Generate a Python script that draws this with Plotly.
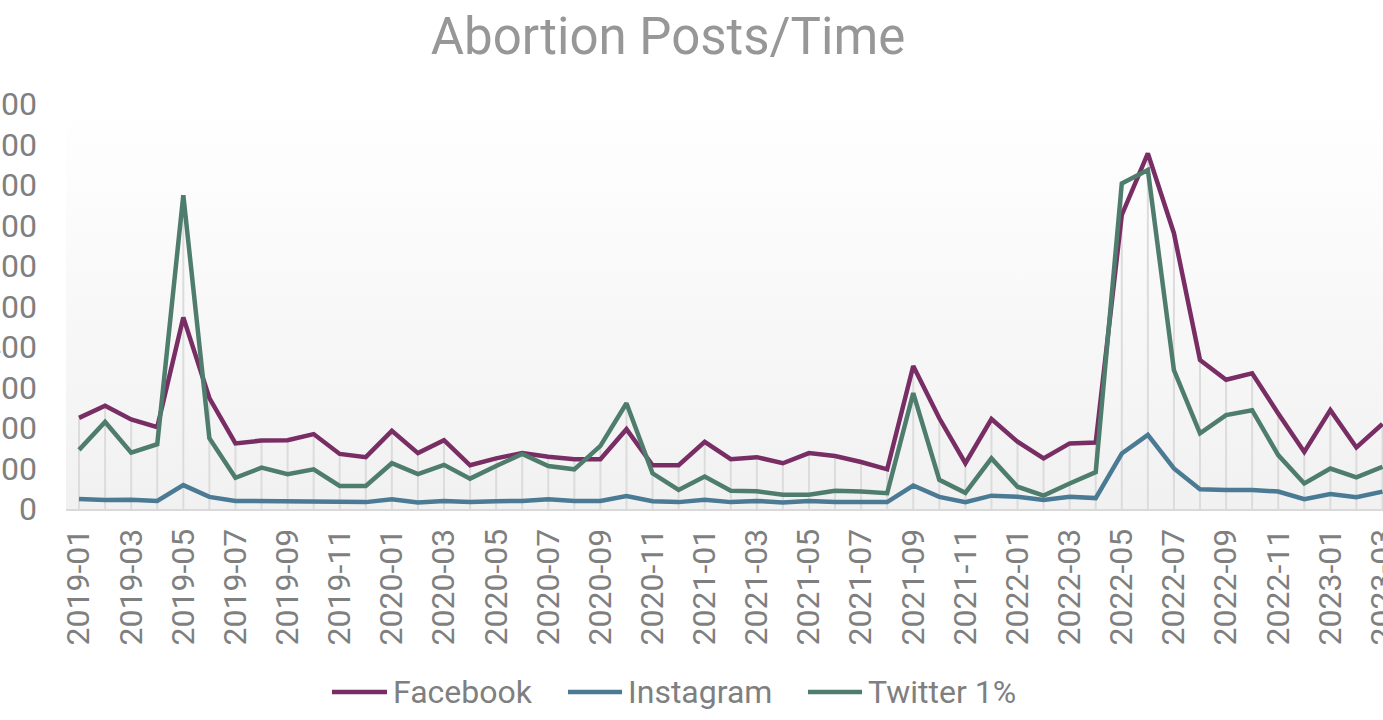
import plotly.graph_objects as go

months = [
    "2019-01", "2019-02", "2019-03", "2019-04", "2019-05", "2019-06", "2019-07", "2019-08", "2019-09", "2019-10", "2019-11", "2019-12",
    "2020-01", "2020-02", "2020-03", "2020-04", "2020-05", "2020-06", "2020-07", "2020-08", "2020-09", "2020-10", "2020-11", "2020-12",
    "2021-01", "2021-02", "2021-03", "2021-04", "2021-05", "2021-06", "2021-07", "2021-08", "2021-09", "2021-10", "2021-11", "2021-12",
    "2022-01", "2022-02", "2022-03", "2022-04", "2022-05", "2022-06", "2022-07", "2022-08", "2022-09", "2022-10", "2022-11", "2022-12",
    "2023-01", "2023-02", "2023-03",
]

facebook = [225, 255, 221, 202, 473, 274, 162, 169, 170, 185, 136, 128,
            193, 138, 170, 108, 125, 138, 129, 123, 123, 197, 108, 108,
            166, 123, 128, 113, 138, 131, 116, 98, 353, 224, 113, 222,
            166, 125, 162, 164, 726, 878, 681, 368, 319, 335, 236, 141,
            244, 152, 210]

instagram = [25, 22, 23, 20, 59, 30, 20, 19, 18, 19, 17, 17,
             24, 16, 20, 17, 19, 20, 24, 20, 20, 32, 19, 17,
             23, 17, 20, 16, 20, 17, 17, 17, 58, 30, 17, 33,
             30, 22, 30, 27, 137, 183, 100, 49, 47, 47, 43, 24,
             37, 29, 43]

twitter = [146, 215, 139, 160, 775, 175, 77, 102, 86, 98, 57, 57,
           113, 86, 109, 75, 106, 136, 106, 98, 156, 261, 88, 47,
           80, 45, 44, 35, 35, 45, 43, 39, 286, 72, 40, 125,
           55, 33, 63, 91, 804, 837, 343, 187, 232, 244, 133, 63,
           100, 78, 104]

y_ticks = [0, 100, 200, 300, 400, 500, 600, 700, 800, 900, 1000]

series = [("Facebook", facebook, "#782E64"), ("Instagram", instagram, "#4A7A94"), ("Twitter 1%", twitter, "#4F7D6D")]

GRAY = "#7F7F7F"
FONT = "Roboto"

idx = list(range(len(months)))
x_tick_idx = idx[::2]
x_tick_text = months[::2]

X_MIN, X_MAX = -0.5, 50.02
Y_MIN, Y_MAX = 0, 1000

# pixel geometry of the plot area
L, R, T, B = 66, 1383, 104, 509
W, H = 1383, 720

def px_x(p):
    return (p - L) / (R - L)

def px_y(p):
    return (B - p) / (B - T)

fig = go.Figure()

# plot-area gradient background
fig.add_trace(go.Scatter(
    x=[X_MIN, X_MAX, X_MAX, X_MIN, X_MIN], y=[Y_MIN, Y_MIN, Y_MAX, Y_MAX, Y_MIN],
    fill="toself", mode="none",
    fillgradient=dict(type="vertical", colorscale=[[0, "#F1F1F1"], [1, "#FFFFFF"]], start=Y_MIN, stop=Y_MAX),
    hoverinfo="skip", showlegend=False,
))

# drop lines
dx, dy = [], []
for i in idx:
    dx += [i, i, None]
    dy += [max(facebook[i], instagram[i], twitter[i]), 0, None]
fig.add_trace(go.Scatter(x=dx, y=dy, mode="lines", line=dict(color="#DCDCDC", width=2),
                         hoverinfo="skip", showlegend=False))

for name, vals, color in series:
    fig.add_trace(go.Scatter(x=idx, y=vals, name=name, mode="lines",
                             customdata=months, hovertemplate="%{customdata}: %{y}<extra>" + name + "</extra>",
                             line=dict(color=color, width=4.5), showlegend=False))

# legend drawn as line samples + labels
legend_items = [("Facebook", "#782E64", 332, 387, 391),
                ("Instagram", "#4A7A94", 568, 622, 626),
                ("Twitter 1%", "#4F7D6D", 808, 862, 866)]
shapes, annotations = [], []
LEG_Y = 692
for name, color, x0, x1, tx in legend_items:
    shapes.append(dict(type="line", xref="paper", yref="paper",
                       x0=px_x(x0), x1=px_x(x1), y0=px_y(LEG_Y), y1=px_y(LEG_Y),
                       line=dict(color=color, width=4.5)))
    annotations.append(dict(text=name, xref="paper", yref="paper", x=px_x(tx), y=px_y(LEG_Y),
                            xanchor="left", yanchor="middle", showarrow=False,
                            font=dict(family=FONT, size=32, color=GRAY)))

fig.update_layout(
    width=W, height=H,
    margin=dict(l=L, r=W - R, t=T, b=H - B, autoexpand=False),
    paper_bgcolor="white", plot_bgcolor="rgba(0,0,0,0)",
    font=dict(family=FONT, color=GRAY, size=32),
    title=dict(text="Abortion Posts/Time", font=dict(family=FONT, size=51, color="#979797"),
               x=668 / W, xanchor="center", xref="container",
               y=1 - 36 / H, yanchor="middle", yref="container"),
    xaxis=dict(range=[X_MIN, X_MAX], tickvals=x_tick_idx, ticktext=x_tick_text, tickangle=-90,
               showgrid=False, zeroline=False, showline=True, linecolor="#D9D9D9", linewidth=2,
               ticks="", ticklabelstandoff=5, ticklabeloverflow="allow", automargin=False,
               tickfont=dict(family=FONT, size=32, color=GRAY)),
    yaxis=dict(range=[Y_MIN, Y_MAX], tickvals=y_ticks, showgrid=False, zeroline=False, showline=False,
               ticks="", ticklabelstandoff=28, ticklabeloverflow="allow", automargin=False,
               tickfont=dict(family=FONT, size=32, color=GRAY)),
    shapes=shapes,
    annotations=annotations,
    showlegend=False,
)

fig.write_html("out.html")
